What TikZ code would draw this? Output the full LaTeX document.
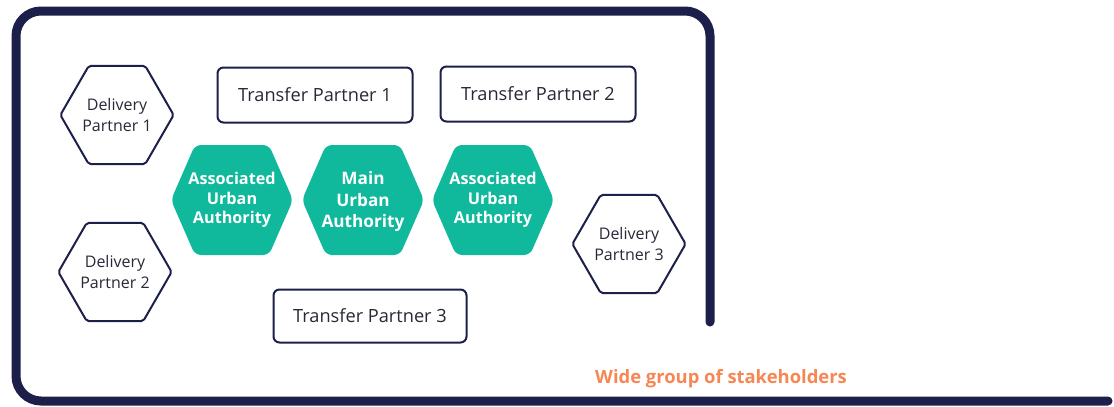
\documentclass[tikz,border=0pt]{standalone}
\usepackage{fontspec}
\setmainfont{Open Sans}
\usetikzlibrary{shapes.geometric}
\definecolor{framenavy}{RGB}{28,31,74}
\definecolor{uagreen}{RGB}{16,184,156}
\definecolor{labelorange}{RGB}{246,134,84}
\definecolor{textgrey}{RGB}{40,40,55}
\tikzstyle{partnerbox} = [draw=framenavy,line width=1pt,rounded corners=3pt,minimum width=97.5pt,minimum height=27.5pt,inner sep=0pt,font=\fontsize{9.1}{11}\selectfont,text=textgrey]
\tikzstyle{partnerhex} = [draw=framenavy,line width=1pt,regular polygon,regular polygon sides=6,minimum size=54pt,inner sep=0pt,rounded corners=1pt,align=center,font=\fontsize{8}{10.5}\selectfont,text=textgrey]
\tikzstyle{uahex} = [fill=uagreen,rounded corners=3pt]
\tikzstyle{uatext} = [align=center,inner sep=0pt,text=white,font=\bfseries\fontsize{8.1}{9.75}\selectfont]

\begin{document}
\begin{tikzpicture}[x=0.5pt,y=-0.5pt]
			\useasboundingbox (0,0) rectangle (1114,407);
			
			%% frame
			\draw[framenavy,line width=4.5pt,line cap=round,rounded corners=12.5pt] (710,322) -- (710,11) -- (16,11) -- (16,401) -- (1108,401);
			
			%% authorities
			\foreach \cx in {232,363,493}
				\fill[uahex] (\cx-61,200) -- (\cx-37,145) -- (\cx+37,145) -- (\cx+61,200) -- (\cx+37,255) -- (\cx-37,255) -- cycle;
			\node[uatext] (aua1) at (232,200) {Associated\\Urban\\Authority};
			\node[uatext,font=\bfseries\fontsize{8.6}{10.75}\selectfont] (mua) at (363,202) {Main\\Urban\\Authority};
			\node[uatext] (aua2) at (493,200) {Associated\\Urban\\Authority};
			
			%% partners
			\node[partnerhex] (dp1) at (117,115) {Delivery\\Partner 1};
			\node[partnerhex] (dp2) at (115,272) {Delivery\\Partner 2};
			\node[partnerhex] (dp3) at (629,244) {Delivery\\Partner 3};
			\node[partnerbox] (tp1) at (315,95) {Transfer Partner 1};
			\node[partnerbox] (tp2) at (538,94) {Transfer Partner 2};
			\node[partnerbox,minimum width=96.5pt,minimum height=26.5pt] (tp3) at (370,316) {Transfer Partner 3};
			
			%% label
			\node[text=labelorange,font=\bfseries\fontsize{9.2}{11}\selectfont] (wide) at (721,379) {Wide group of stakeholders};
		\end{tikzpicture}
\end{document}
